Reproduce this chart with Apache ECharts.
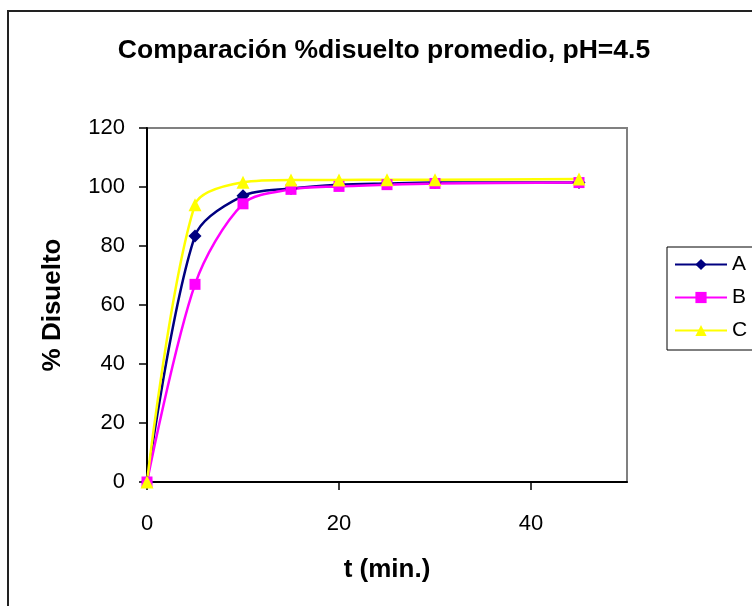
<!DOCTYPE html>
<html>
<head>
<meta charset="utf-8">
<script src="https://cdn.jsdelivr.net/npm/echarts@6/dist/echarts.min.js"></script>
<style>
  html, body { margin: 0; padding: 0; background: #fff; }
  #chart { width: 752px; height: 606px; }
</style>
</head>
<body>
<div id="chart"></div>
<script>
// tiempos (min.)
const tiempos = [0, 5, 10, 15, 20, 25, 30, 45]
// % disuelto promedio por formulación
const serieA = [0, 83.4, 97.0, 99.5, 100.8, 101.2, 101.5, 101.5]
const serieB = [0, 67.0, 94.3, 99.2, 100.2, 100.8, 101.2, 101.5]
const serieC = [0, 94.0, 101.6, 102.4, 102.4, 102.5, 102.5, 102.7]
const nombres = ['A', 'B', 'C']
const xTicks = [0, 20, 40]

const fuente = 'Liberation Sans, Arial, sans-serif'
const chart = echarts.init(document.getElementById('chart'))

function pares(vals) {
    return tiempos.map((t, i) => [t, vals[i]])
}

const options = {
    animation: false,
    title: {
        text: 'Comparación %disuelto promedio, pH=4.5',
        left: 379,
        top: 32,
        textAlign: 'center',
        textStyle: { fontFamily: fuente, fontSize: 26.5, fontWeight: 'bold', color: '#000' }
    },
    graphic: [{
        type: 'rect',
        shape: { x: 8, y: 11, width: 770, height: 620 },
        style: { fill: 'none', stroke: '#222', lineWidth: 2 },
        z: -10
    }],
    legend: {
        orient: 'vertical',
        left: 667,
        top: 247,
        padding: [7, 30, 9, 7],
        itemGap: 12,
        itemWidth: 52,
        itemHeight: 14,
        borderColor: '#000',
        borderWidth: 1,
        backgroundColor: '#fff',
        textStyle: { fontFamily: fuente, fontSize: 21, color: '#000' },
        data: nombres
    },
    grid: {
        left: 147,
        right: 125,
        top: 128,
        bottom: 124,
        show: true,
        borderColor: '#808080',
        borderWidth: 2,
        containLabel: false
    },
    xAxis: {
        type: 'value',
        min: 0,
        max: 50,
        interval: 20,
        name: 't (min.)',
        nameLocation: 'middle',
        nameGap: 75,
        nameTextStyle: { fontFamily: fuente, fontSize: 26, fontWeight: 'bold', color: '#000' },
        axisLine: { show: true, onZero: false, lineStyle: { color: '#000', width: 2 } },
        axisTick: { show: true, length: 8, customValues: xTicks, lineStyle: { color: '#000', width: 1.5 } },
        axisLabel: { margin: 31, customValues: xTicks, fontFamily: fuente, fontSize: 22, color: '#000' },
        splitLine: { show: false }
    },
    yAxis: {
        type: 'value',
        min: 0,
        max: 120,
        interval: 20,
        name: '% Disuelto',
        nameLocation: 'middle',
        nameGap: 81,
        nameTextStyle: { fontFamily: fuente, fontSize: 26, fontWeight: 'bold', color: '#000' },
        axisLine: { show: true, lineStyle: { color: '#000', width: 2 } },
        axisTick: { show: true, length: 8, lineStyle: { color: '#000', width: 1.5 } },
        axisLabel: { margin: 22, fontFamily: fuente, fontSize: 22, color: '#000' },
        splitLine: { show: false }
    },
    series: [
        {
            name: 'A', type: 'line', smooth: 0.3,
            data: pares(serieA),
            symbol: 'diamond', symbolSize: 13,
            lineStyle: { color: '#000080', width: 2.5 },
            itemStyle: { color: '#000080' }
        },
        {
            name: 'B', type: 'line', smooth: 0.3,
            data: pares(serieB),
            symbol: 'rect', symbolSize: 11,
            lineStyle: { color: '#FF00FF', width: 2.5 },
            itemStyle: { color: '#FF00FF' }
        },
        {
            name: 'C', type: 'line', smooth: 0.3,
            data: pares(serieC),
            symbol: 'triangle', symbolSize: 13,
            lineStyle: { color: '#FFFF00', width: 2.5 },
            itemStyle: { color: '#FFFF00' }
        }
    ]
}
chart.setOption(options, true)
</script>
</body>
</html>
